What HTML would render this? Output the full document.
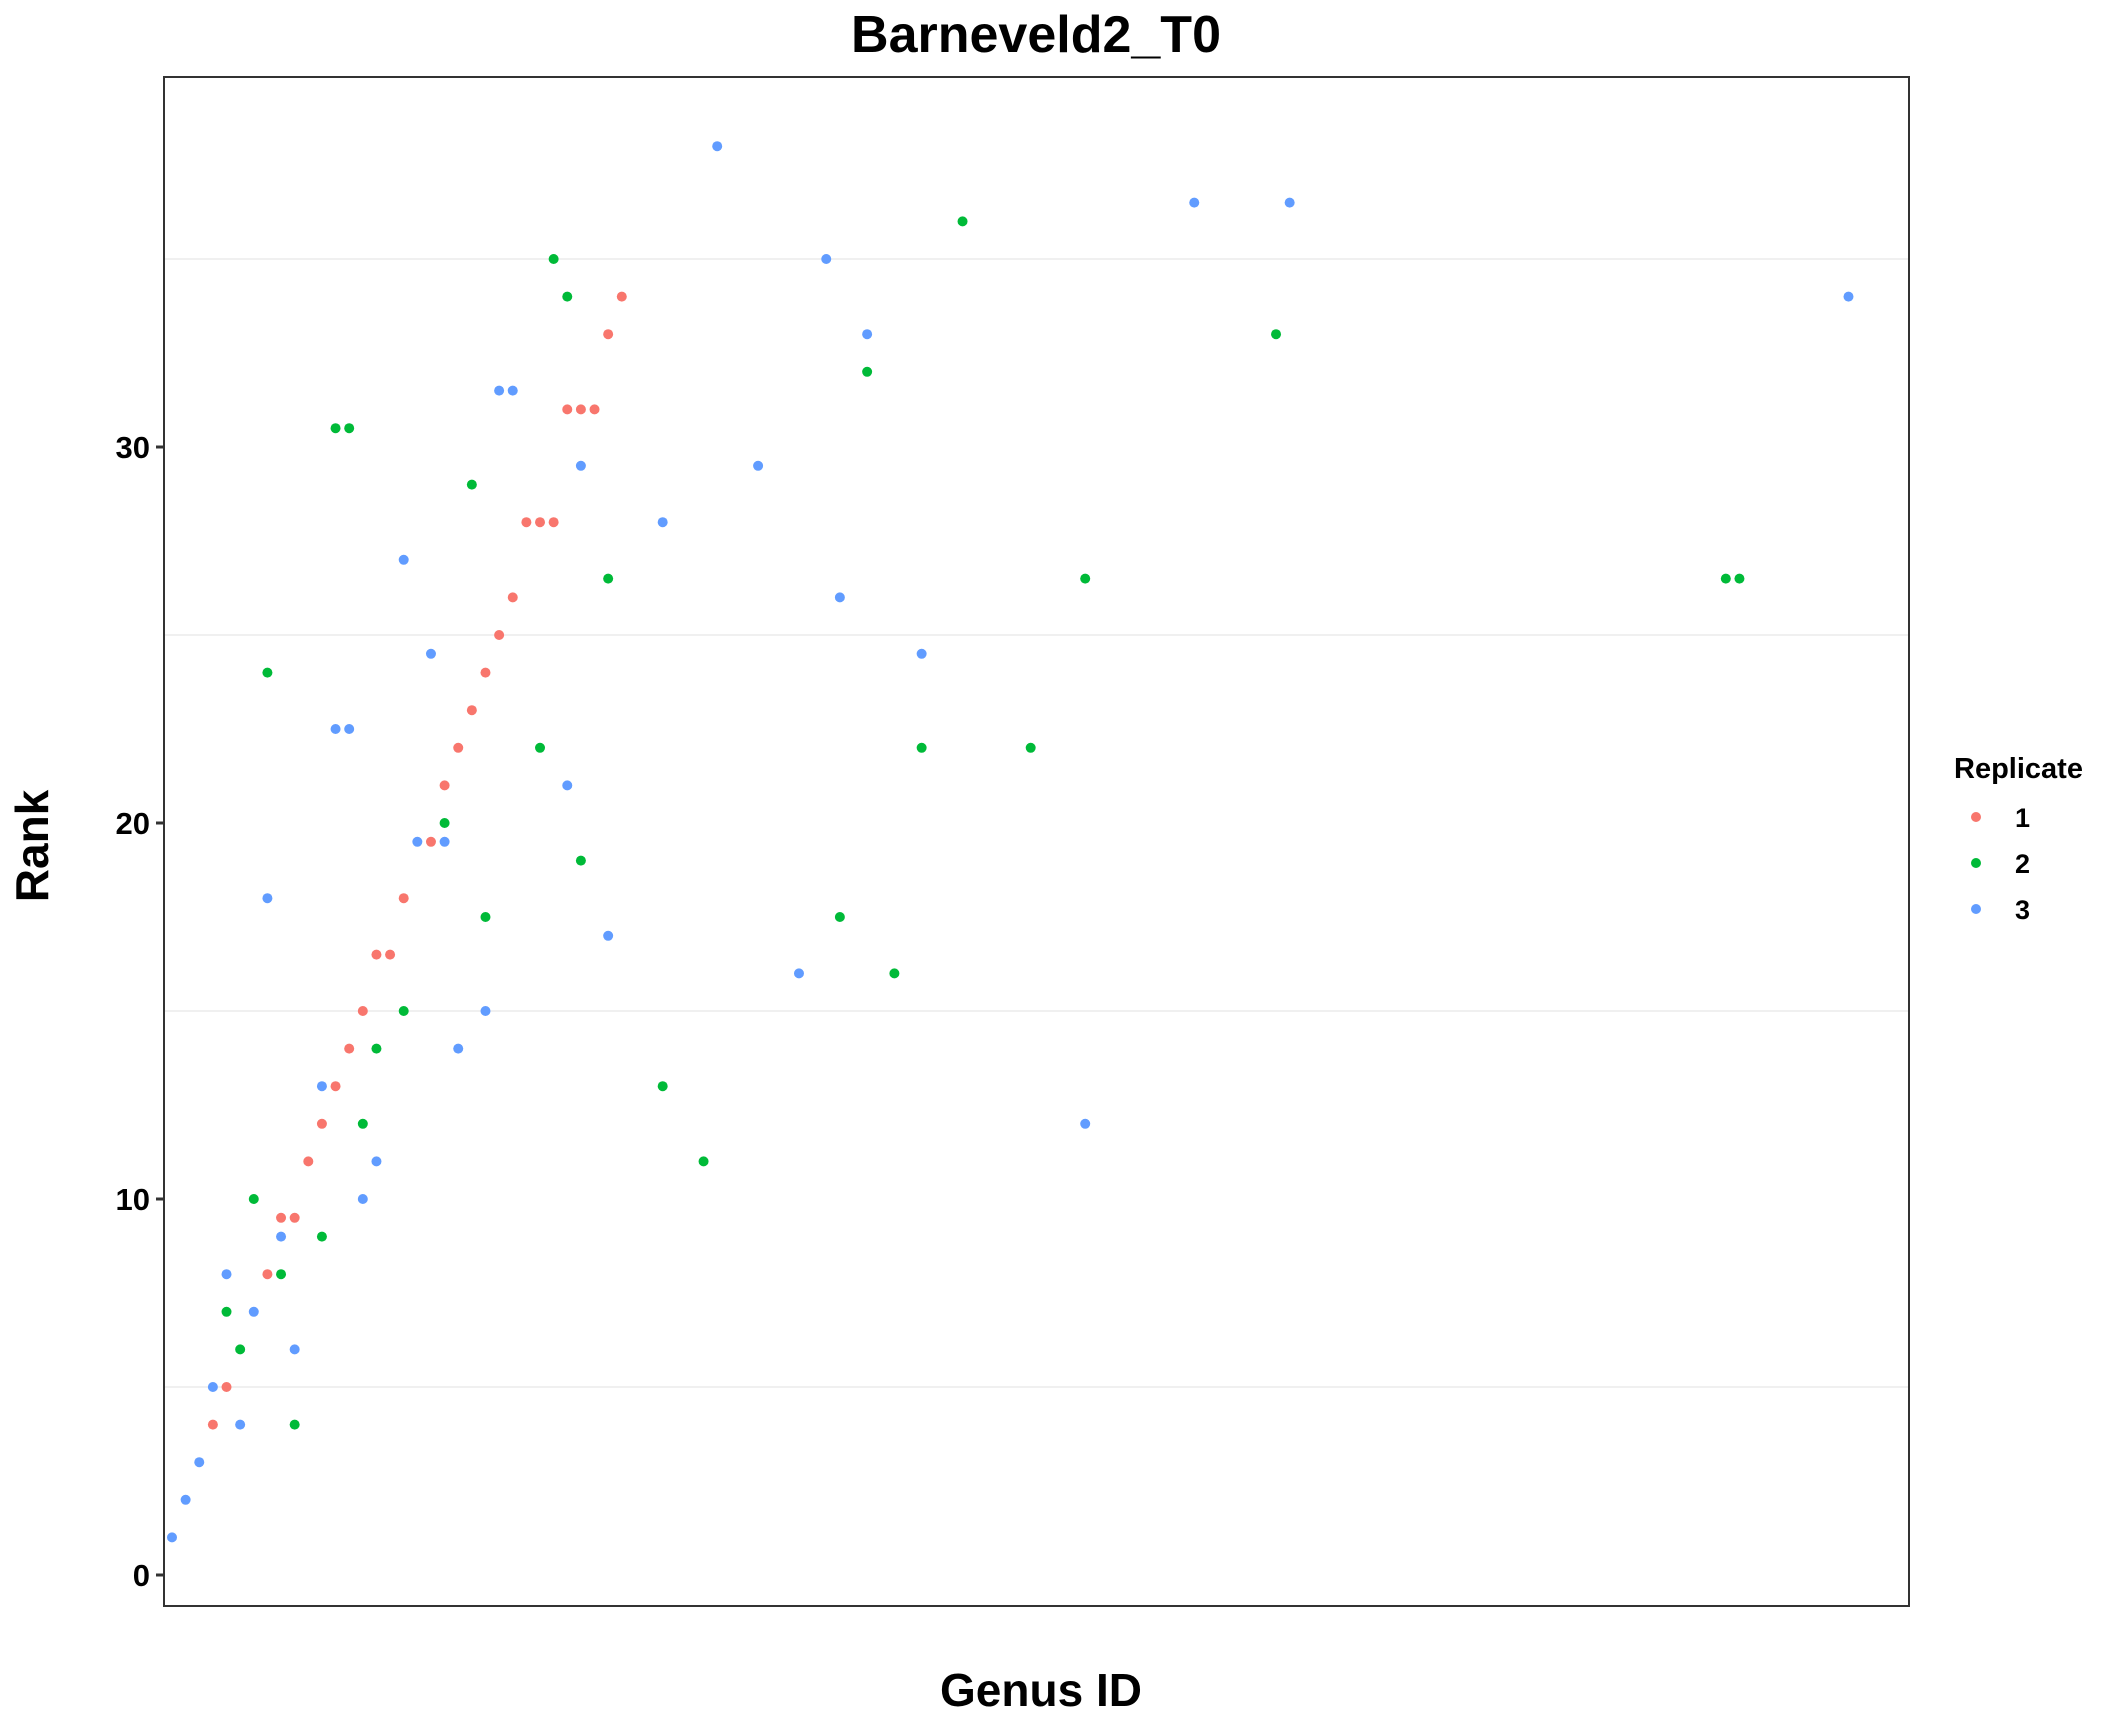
<!DOCTYPE html>
<html><head><meta charset="utf-8"><style>
html,body{margin:0;padding:0;background:#fff;}
svg{display:block;font-family:"Liberation Sans",Arial,sans-serif;}
</style></head><body>
<svg id="chart" width="2112" height="1728" viewBox="0 0 2112 1728">
<rect width="2112" height="1728" fill="#fff"/>
<text x="1036" y="52" text-anchor="middle" font-size="52" font-weight="bold">Barneveld2_T0</text>
<g id="grid"></g>
<g id="pts"></g>
<rect x="164" y="77" width="1745" height="1529" fill="none" stroke="#333" stroke-width="2"/>
<g id="yaxis"></g>
<text x="48" y="846" text-anchor="middle" font-size="46" font-weight="bold" transform="rotate(-90 48 846)" dy="0">Rank</text>
<text x="1041" y="1706" text-anchor="middle" font-size="46" font-weight="bold">Genus ID</text>
<g>
<text x="1954" y="778" font-size="29" font-weight="bold">Replicate</text>
<g><circle cx="1976" cy="817" r="5" fill="#F8766D"/><text x="2015" y="827" font-size="27" font-weight="bold">1</text></g>
<g><circle cx="1976" cy="863" r="5" fill="#00BA38"/><text x="2015" y="873" font-size="27" font-weight="bold">2</text></g>
<g><circle cx="1976" cy="909" r="5" fill="#619CFF"/><text x="2015" y="919" font-size="27" font-weight="bold">3</text></g>
</g>
</svg>
<script>
const rep1Idx=[4,5,8,9,10,11,12,13,14,15,16,17,18,20,21,22,23,24,25,26,27,28,29,30,31,32,33,34];
const rep1Rank=[4,5,8,9.5,9.5,11,12,13,14,15,16.5,16.5,18,19.5,21,22,23,24,25,26,28,28,28,31,31,31,33,34];
const rep2Idx=[5,6,7,8,9,10,12,13,14,15,16,18,21,23,24,28,29,30,31,33,37,40,50,52,54,56,59,64,68,82,115,116];
const rep2Rank=[7,6,10,24,8,4,9,30.5,30.5,12,14,15,20,29,17.5,22,35,34,19,26.5,13,11,17.5,32,16,22,36,22,26.5,33,26.5,26.5];
const rep3Idx=[1,2,3,4,5,6,7,8,9,10,12,13,14,15,16,18,19,20,21,22,24,25,26,30,31,33,37,41,44,47,49,50,52,56,68,76,83,124];
const rep3Rank=[1,2,3,5,8,4,7,18,9,6,13,22.5,22.5,10,11,27,19.5,24.5,19.5,14,15,31.5,31.5,21,29.5,17,28,38,29.5,16,35,26,33,24.5,12,36.5,36.5,34];
const yTicks=[0,10,20,30];
const yGrid=[5,15,25,35];
const NS='http://www.w3.org/2000/svg';
function xs(i){return 172+(i-1)*13.63;}
function ys(r){return 1575-r*37.6;}
const grid=document.getElementById('grid');
yGrid.forEach(v=>{const l=document.createElementNS(NS,'line');
l.setAttribute('x1',165);l.setAttribute('x2',1908);l.setAttribute('y1',ys(v));l.setAttribute('y2',ys(v));
l.setAttribute('stroke','#ebebeb');l.setAttribute('stroke-width','1.5');


grid.appendChild(l);});
const ya=document.getElementById('yaxis');
yTicks.forEach(v=>{const l=document.createElementNS(NS,'line');
l.setAttribute('x1',156);l.setAttribute('x2',164);l.setAttribute('y1',ys(v));l.setAttribute('y2',ys(v));
l.setAttribute('stroke','#333');l.setAttribute('stroke-width','3');


ya.appendChild(l);
const t=document.createElementNS(NS,'text');
t.setAttribute('x',150);t.setAttribute('y',ys(v)+11);t.setAttribute('text-anchor','end');
t.setAttribute('font-size','31');t.setAttribute('font-weight','bold');t.textContent=v;


ya.appendChild(t);});
const pts=document.getElementById('pts');
[[rep1Idx,rep1Rank,'#F8766D','1'],[rep2Idx,rep2Rank,'#00BA38','2'],[rep3Idx,rep3Rank,'#619CFF','3']].forEach(s=>{
s[0].forEach((ix,k)=>{const c=document.createElementNS(NS,'circle');
c.setAttribute('cx',xs(ix));c.setAttribute('cy',ys(s[1][k]));c.setAttribute('r',5);c.setAttribute('fill',s[2]);


pts.appendChild(c);});});
</script>
</body></html>
